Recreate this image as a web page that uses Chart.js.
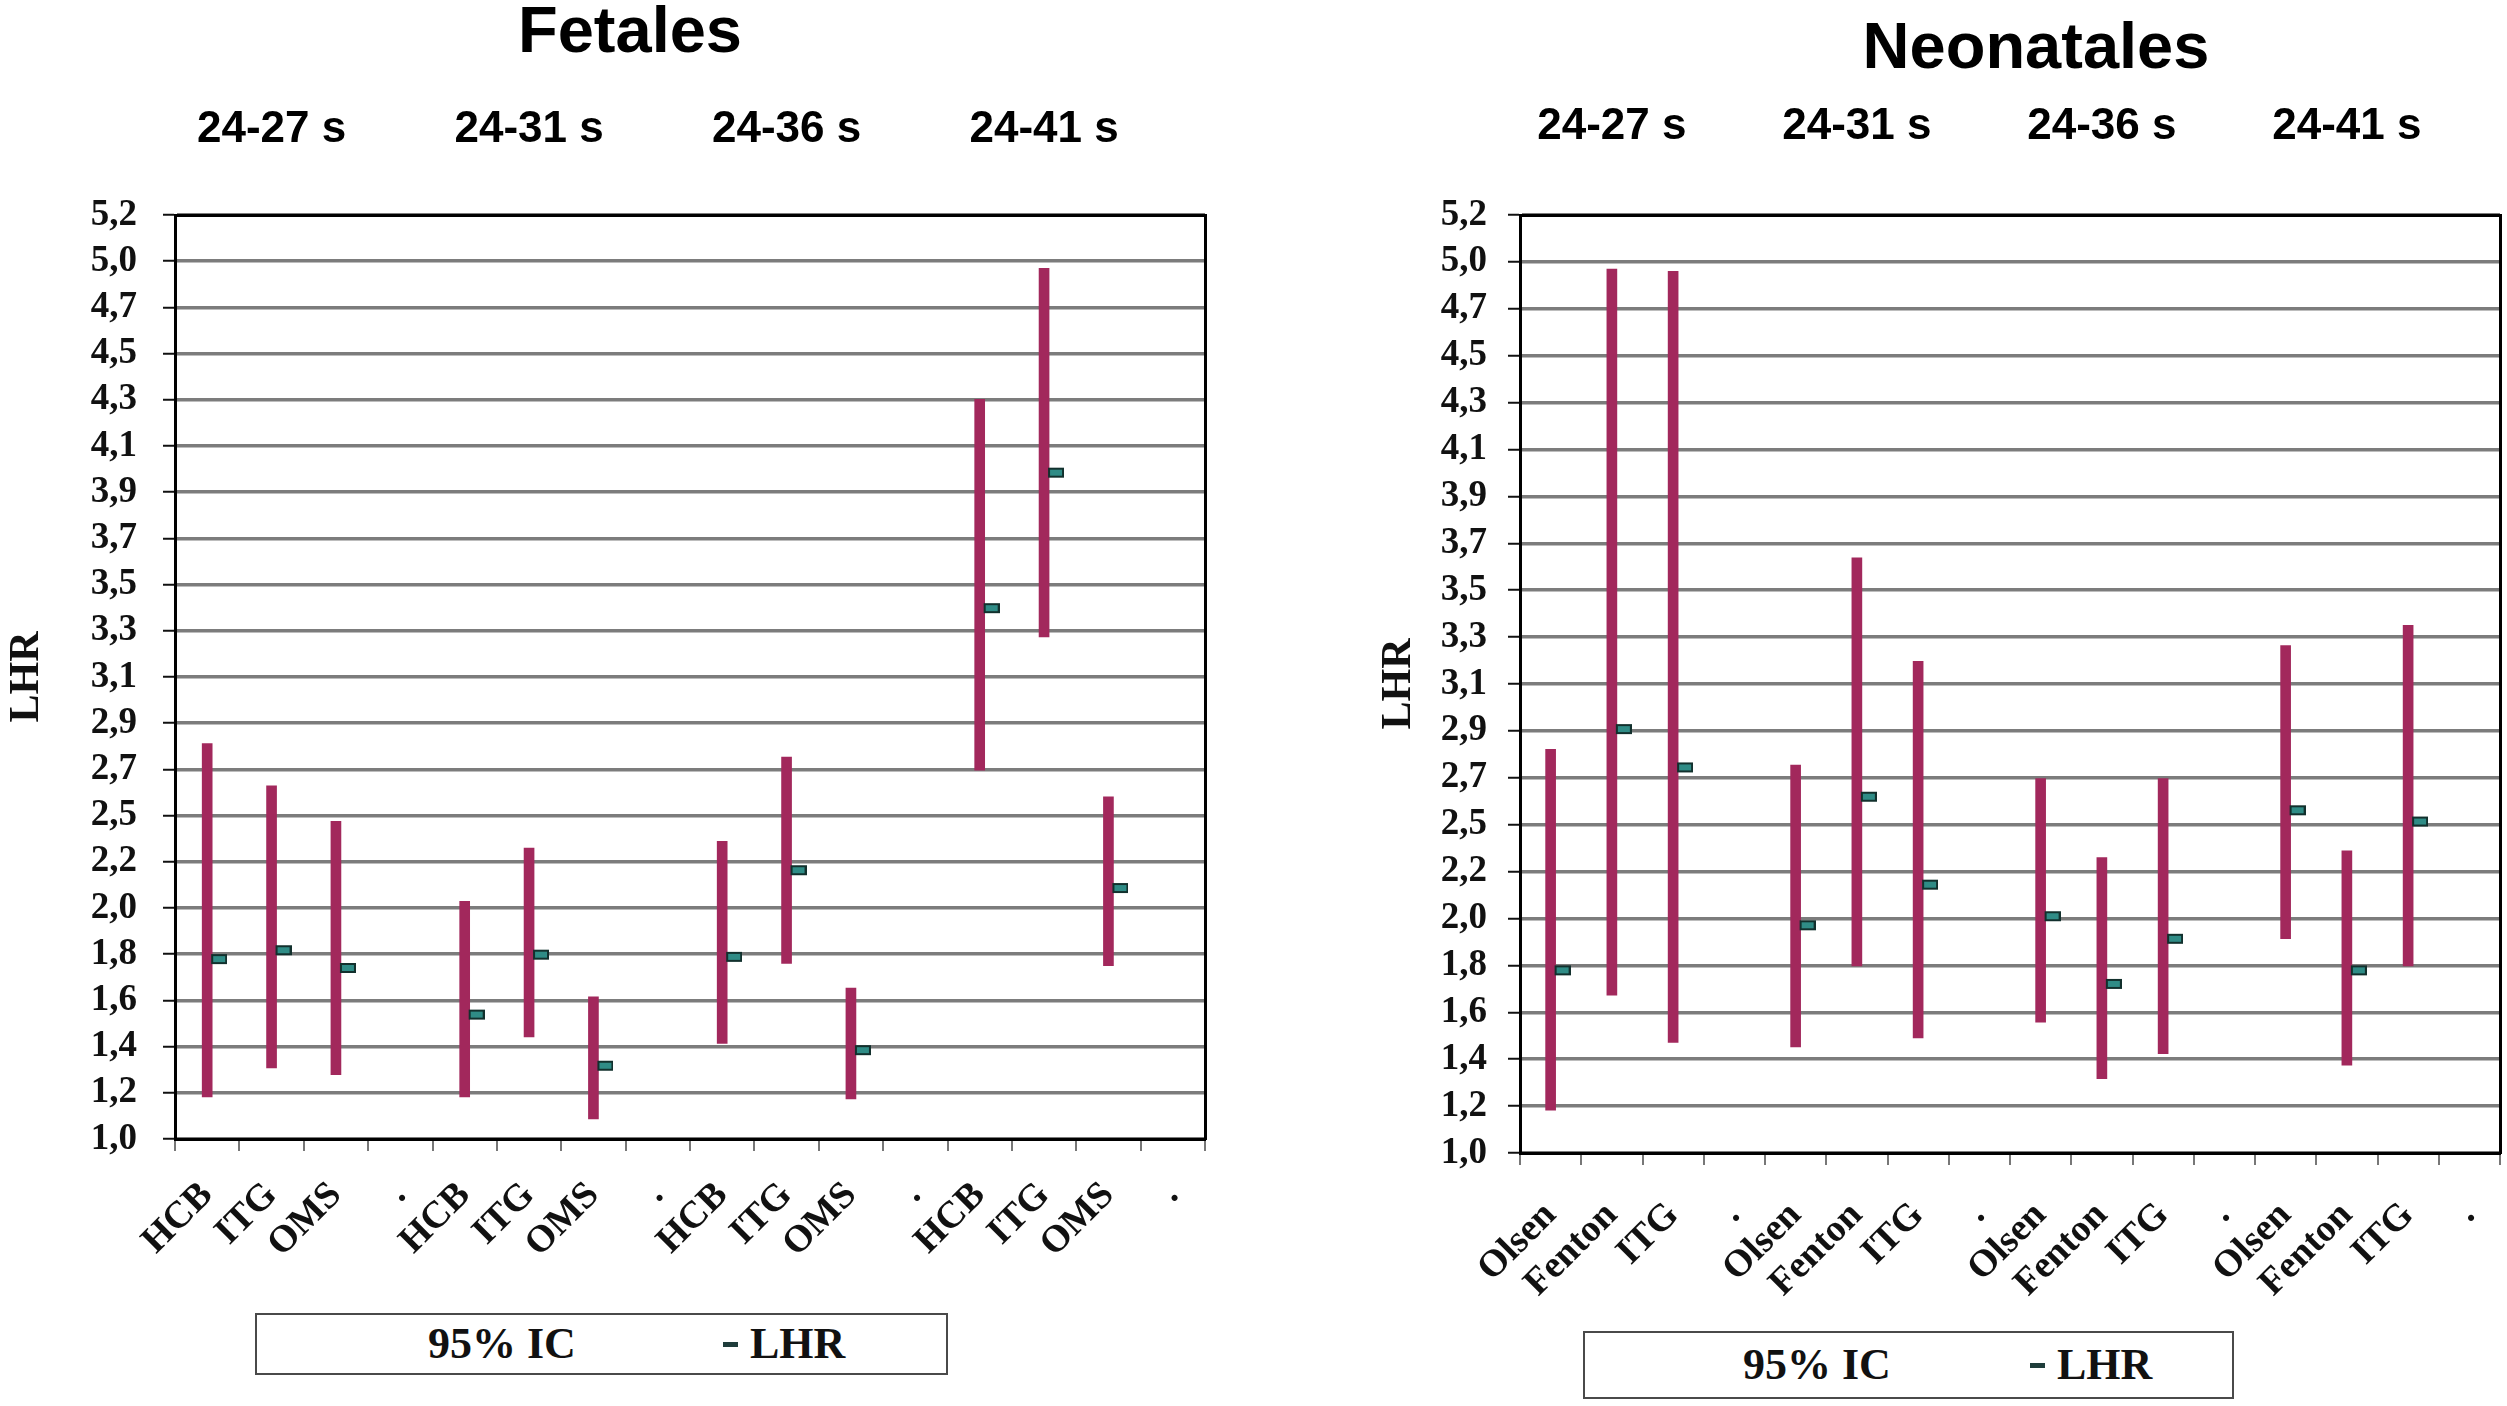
<!DOCTYPE html>
<html>
<head>
<meta charset="utf-8">
<title>LHR Fetales / Neonatales</title>
<script src="https://cdn.jsdelivr.net/npm/chart.js@4.4.1/dist/chart.umd.min.js"></script>
<style>
  html, body { margin:0; padding:0; background:#fff; width:2507px; height:1406px; overflow:hidden; }
  body { position:relative; }
  canvas { position:absolute; top:0; }
  #fetalChart { left:0; }
  #neoChart { left:1250px; }
  .legend { position:absolute; box-sizing:border-box; border:2px solid #4a4a4a; background:#fff;
            font-family:'Liberation Serif','Times New Roman',serif; font-weight:bold; font-size:44px; color:#111; }
  .legend .item { position:absolute; top:50%; transform:translateY(-50%); line-height:1; white-space:nowrap;
                  font-family:'Liberation Serif','Times New Roman',serif; }
  .legend .dash { display:inline-block; width:15px; height:5px; background:#1f3d3b; vertical-align:middle;
                  margin-right:12px; position:relative; top:-3px; }
</style>
</head>
<body>
<canvas id="fetalChart" width="1260" height="1300" style="width:1260px;height:1300px"></canvas>
<canvas id="neoChart" width="1572" height="1300" style="width:1572px;height:1300px"></canvas>
<div class="legend" style="left:255px;top:1313px;width:693px;height:62px;">
  <span class="item" style="left:171px">95% IC</span>
  <span class="item" style="left:466px"><span class="dash"></span>LHR</span>
</div>
<div class="legend" style="left:1583px;top:1331px;width:651px;height:68px;">
  <span class="item" style="left:158px">95% IC</span>
  <span class="item" style="left:445px"><span class="dash"></span>LHR</span>
</div>
<script>
// ---------------- DATA ----------------
const groupHeaders = ['24-27 s', '24-31 s', '24-36 s', '24-41 s'];

const fetalCategories = ['HCB','ITG','OMS','.','HCB','ITG','OMS','.','HCB','ITG','OMS','.','HCB','ITG','OMS','.'];
const fetalLow  = [1.19, 1.32, 1.29, null, 1.19, 1.46, 1.09, null, 1.43, 1.79, 1.18, null, 2.66, 3.26, 1.78, null];
const fetalHigh = [2.78, 2.59, 2.43, null, 2.07, 2.31, 1.64, null, 2.34, 2.72, 1.68, null, 4.33, 4.92, 2.54, null];
const fetalLHR  = [1.81, 1.85, 1.77, null, 1.56, 1.83, 1.33, null, 1.82, 2.21, 1.40, null, 3.39, 4.00, 2.13, null];

const neoCategories = ['Olsen','Fenton','ITG','.','Olsen','Fenton','ITG','.','Olsen','Fenton','ITG','.','Olsen','Fenton','ITG','.'];
const neoLow  = [1.19, 1.70, 1.49, null, 1.47, 1.83, 1.51, null, 1.58, 1.33, 1.44, null, 1.95, 1.39, 1.83, null];
const neoHigh = [2.79, 4.92, 4.91, null, 2.72, 3.64, 3.18, null, 2.66, 2.31, 2.66, null, 3.25, 2.34, 3.34, null];
const neoLHR  = [1.81, 2.88, 2.71, null, 2.01, 2.58, 2.19, null, 2.05, 1.75, 1.95, null, 2.52, 1.81, 2.47, null];

const yTickLabels = ['1,0','1,2','1,4','1,6','1,8','2,0','2,2','2,5','2,7','2,9','3,1',
                     '3,3','3,5','3,7','3,9','4,1','4,3','4,5','4,7','5,0','5,2'];
const yMin = 1.0;
const yStep = 0.208;

// ---------------- STYLE ----------------
const SERIF = "'Liberation Serif', 'Times New Roman', serif";
const SANS = "'Liberation Sans', Arial, sans-serif";
const BAR_COLOR = '#A2285C';

Chart.defaults.font.family = SERIF;

function makeMarker() {
  const c = document.createElement('canvas');
  c.width = 40; c.height = 12;
  const g = c.getContext('2d');
  g.fillStyle = '#2f8c86';
  g.fillRect(25, 2, 14, 8);
  g.strokeStyle = '#12302d';
  g.lineWidth = 2;
  g.strokeRect(25, 2, 14, 8);
  return c;
}
const marker = makeMarker();

function headerRow(n) {
  const row = new Array(n).fill('');
  groupHeaders.forEach((h, g) => { row[g * 4 + 1] = h; });
  return row;
}

function buildChart(id, o) {
  const yMax = yMin + (yTickLabels.length - 1) * yStep;
  return new Chart(document.getElementById(id), {
    data: {
      labels: o.categories,
      datasets: [
        {
          type: 'line',
          label: 'LHR',
          data: o.lhr,
          showLine: false,
          pointStyle: marker,
          pointRadius: 5,
          pointHoverRadius: 5,
          order: 0
        },
        {
          type: 'bar',
          label: '95% IC',
          data: o.low.map((lo, i) => (lo === null ? null : [lo, o.high[i]])),
          backgroundColor: BAR_COLOR,
          borderWidth: 0,
          borderSkipped: false,
          barThickness: 10,
          order: 1
        }
      ]
    },
    options: {
      responsive: false,
      devicePixelRatio: 1,
      animation: false,
      layout: { padding: { left: 0, right: 0, top: 0, bottom: 0 } },
      plugins: {
        legend: { display: false },
        tooltip: { enabled: false },
        title: {
          display: true,
          text: o.title,
          color: '#000',
          font: { family: SANS, size: 65, weight: 'bold', lineHeight: 1 },
          padding: { top: o.titlePadTop, bottom: 0 }
        }
      },
      scales: {
        x: {
          type: 'category',
          position: 'bottom',
          offset: true,
          grid: { offset: true, drawOnChartArea: false, drawTicks: true, tickLength: 12, color: '#777', lineWidth: 2 },
          border: { display: true, color: '#000', width: 3, z: 1 },
          ticks: {
            autoSkip: false, minRotation: 45, maxRotation: 45, padding: o.xLabelPad, color: '#111',
            font: { family: SERIF, size: 38, weight: 'bold', lineHeight: 1 }
          },
          afterFit: s => { s.height = o.xAxisHeight; }
        },
        x2: {
          type: 'category',
          position: 'top',
          labels: headerRow(o.categories.length),
          offset: true,
          grid: { display: false, drawTicks: false, offset: true },
          border: { display: true, color: '#000', width: 3, z: 1 },
          ticks: {
            autoSkip: false, minRotation: 0, maxRotation: 0, padding: o.headerPad, color: '#000',
            font: { family: SANS, size: 44, weight: 'bold', lineHeight: 1 }
          },
          afterFit: s => { s.height = o.headerAxisHeight; }
        },
        y: {
          type: 'linear',
          position: 'left',
          min: yMin,
          max: yMax,
          afterBuildTicks: axis => { axis.ticks = yTickLabels.map((_, i) => ({ value: yMin + i * yStep })); },
          grid: { color: '#7c7c7c', lineWidth: 3.5, drawTicks: true, tickLength: 12, tickColor: '#111', tickWidth: 2 },
          border: { display: true, color: '#000', width: 3, z: 1 },
          ticks: {
            padding: o.yLabelPad, color: '#111',
            font: { family: SERIF, size: 37, weight: 'bold', lineHeight: 1 },
            callback: (v, i) => yTickLabels[i]
          },
          title: {
            display: true, text: 'LHR', color: '#111',
            font: { family: SERIF, size: 42, weight: 'bold', lineHeight: 1 },
            padding: { top: o.yTitlePad, bottom: 0 }
          },
          afterFit: s => { s.width = o.yAxisWidth; }
        },
        yR: {
          type: 'linear',
          position: 'right',
          grid: { display: false, drawTicks: false, drawOnChartArea: false },
          border: { display: true, color: '#000', width: 3, z: 1 },
          ticks: { display: false },
          afterFit: s => { s.width = o.rightGap; }
        }
      }
    }
  });
}

buildChart('fetalChart', {
  categories: fetalCategories, low: fetalLow, high: fetalHigh, lhr: fetalLHR,
  title: 'Fetales', titlePadTop: 1.5,
  headerAxisHeight: 148.5, headerPad: 63,
  yAxisWidth: 175, yTitlePad: 6.5, yLabelPad: 26,
  rightGap: 55, xAxisHeight: 161, xLabelPad: 25
});

buildChart('neoChart', {
  categories: neoCategories, low: neoLow, high: neoHigh, lhr: neoLHR,
  title: 'Neonatales', titlePadTop: 17.5,
  headerAxisHeight: 132.5, headerPad: 66,
  yAxisWidth: 270, yTitlePad: 128, yLabelPad: 21,
  rightGap: 322, xAxisHeight: 147, xLabelPad: 31
});
</script>
</body>
</html>
